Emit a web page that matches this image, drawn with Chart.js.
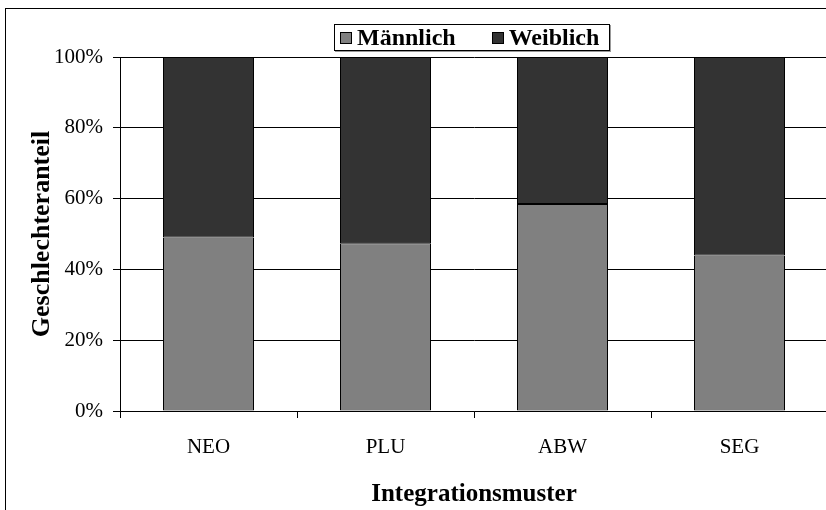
<!DOCTYPE html>
<html>
<head>
<meta charset="utf-8">
<script src="https://cdn.jsdelivr.net/npm/chart.js@4.4.1/dist/chart.umd.min.js"></script>
<style>
  body { margin: 0; background: #fff; overflow: hidden; }
  .wrap { position: relative; width: 826px; height: 510px; overflow: hidden; }
  .frame { position: absolute; left: 5px; top: 8px; right: -2px; bottom: -2px; border-left: 1px solid #000; border-top: 1px solid #000; }
  .legend {
    position: absolute; left: 334px; top: 24px; width: 274px; height: 25px;
    border: 1px solid #000; box-shadow: 1px 1px 0 #999; background: #fff;
    display: flex; align-items: center; gap: 36px; padding-left: 5px; box-sizing: content-box;
    width: 269px; line-height: 1;
    font: bold 24px "Liberation Serif", "Times New Roman", serif;
  }
  .legend__item { display: flex; align-items: center; }
  .legend__bullet { width: 10px; height: 10px; border: 1px solid #000; margin-right: 5px; }
  canvas { position: absolute; left: 0; top: 0; }
</style>
</head>
<body>
<div class="wrap">
  <div class="frame"></div>
  <canvas id="chart" width="828" height="510"></canvas>
  <div class="legend"></div>
</div>
<script>
const categories = ["NEO", "PLU", "ABW", "SEG"];
const maennlich = [49, 47.4, 58.5, 43.9];
const weiblich = [51, 52.6, 41.5, 56.1];
const yTicks = [0, 20, 40, 60, 80, 100];

(() => {
  const font = "'Liberation Serif', 'Times New Roman', serif";
  Chart.defaults.font.family = font;
  Chart.defaults.color = "#000";

  const datasets = [
    { label: "Männlich", data: maennlich, backgroundColor: "#808080" },
    { label: "Weiblich", data: weiblich, backgroundColor: "#333333" },
  ];

  new Chart(document.getElementById("chart"), {
    type: "bar",
    data: {
      labels: categories,
      datasets: datasets.map((d) => ({
        ...d,
        borderColor: "#000",
        borderWidth: 1,
        borderSkipped: false,
        categoryPercentage: 1,
        barPercentage: 91 / 177,
      })),
    },
    options: {
      responsive: false,
      animation: false,
      layout: { padding: { top: 57, left: 0, right: 0, bottom: 0 } },
      plugins: { legend: { display: false }, tooltip: { enabled: false } },
      scales: {
        x: {
          stacked: true,
          grid: { offset: true, drawOnChartArea: false, color: "#000", tickLength: 7 },
          border: { color: "#000" },
          ticks: { font: { size: 21 }, padding: 17 },
          title: { display: true, text: "Integrationsmuster", font: { size: 25, weight: "bold" }, padding: { bottom: 0 } },
          afterFit: (scale) => { scale.height = 99; },
        },
        y: {
          stacked: true,
          min: 0,
          max: 100,
          afterBuildTicks: (scale) => { scale.ticks = yTicks.map((v) => ({ value: v })); },
          grid: { color: "#000", tickLength: 7 },
          border: { color: "#000" },
          ticks: { font: { size: 21 }, padding: 10, callback: (v) => v + "%" },
          title: { display: true, text: "Geschlechteranteil", font: { size: 26, weight: "bold" }, padding: { top: 27 } },
          afterFit: (scale) => { scale.width = 120; },
        },
      },
    },
  });

  document.querySelector(".legend").innerHTML = datasets
    .map(
      (item) => `
      <div class="legend__item">
        <span class="legend__bullet" style="background-color: ${item.backgroundColor}"></span>
        <span>${item.label}</span>
      </div>`
    )
    .join("");
})();
</script>
</body>
</html>
